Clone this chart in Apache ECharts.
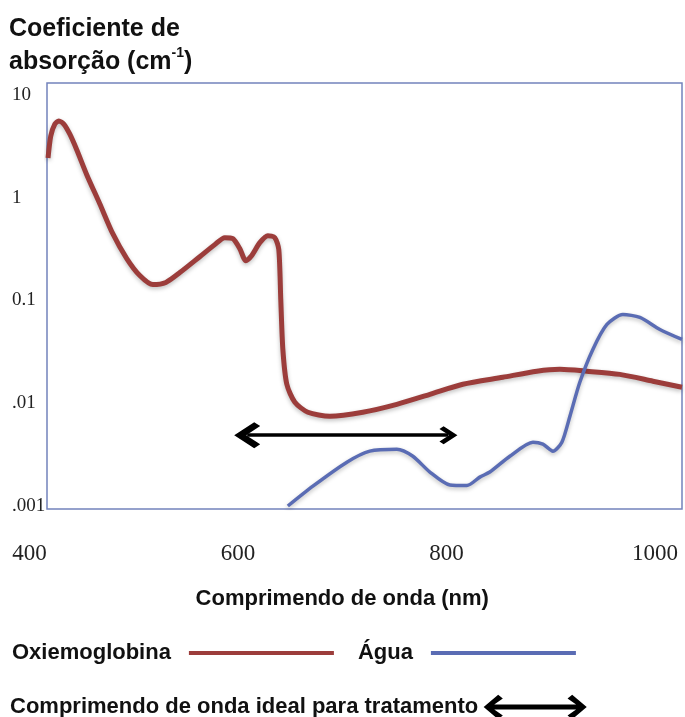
<!DOCTYPE html>
<html>
<head>
<meta charset="utf-8">
<script src="https://cdn.jsdelivr.net/npm/echarts@6/dist/echarts.min.js"></script>
<style>
  html, body { margin: 0; padding: 0; background: #fff; }
  #chart { width: 685px; height: 717px; }
</style>
</head>
<body>
<div id="chart"></div>
<script>
// Oxiemoglobina (nm, cm-1)
const oxyWavelength = [418, 420.6, 424.5, 428.3, 433.1, 438.8, 445.6, 455.2, 467.6, 480.1, 493.5, 506, 518.5, 531, 544.4, 563.5, 577.9, 587.5, 595.2, 601.9, 607.7, 613.4, 621.1, 628.8, 635.5, 639.3, 641.2, 643.2, 647, 654.7, 667.2, 688.3, 719.9, 752.5, 784.2, 815.8, 854.2, 886.8, 908.9, 934.8, 966.4, 998.1, 1026]
const oxyValues = [2.44, 4.0, 5.22, 5.6, 5.22, 4.18, 2.92, 1.67, 0.875, 0.447, 0.256, 0.175, 0.143, 0.150, 0.187, 0.267, 0.350, 0.409, 0.400, 0.320, 0.244, 0.274, 0.366, 0.428, 0.409, 0.313, 0.102, 0.0334, 0.0153, 0.01023, 0.00818, 0.00748, 0.00818, 0.00977, 0.0122, 0.0153, 0.0179, 0.0205, 0.0214, 0.0205, 0.0191, 0.0164, 0.0143]

// Água (nm, cm-1)
const waterWavelength = [648, 672, 704.6, 726.6, 752.5, 767.9, 784.2, 803.4, 819.7, 832.1, 841.7, 860.9, 883, 892.6, 902.2, 910.8, 918.5, 928, 940.5, 954, 969.3, 985.6, 1004.8, 1026]
const waterValues = [0.001, 0.00156, 0.00267, 0.00342, 0.00357, 0.00305, 0.00214, 0.0016, 0.00158, 0.00191, 0.00214, 0.00305, 0.00418, 0.0040, 0.00342, 0.00418, 0.00748, 0.016, 0.0334, 0.0585, 0.0731, 0.0684, 0.0523, 0.0418]

// faixa ideal para tratamento
const idealRange = [609, 802]
const idealLevel = 0.00489

const xTicks = [400, 600, 800, 1000]
const yTickValues = [0.001, 0.01, 0.1, 1, 10]
const yTickLabels = [".001", ".01", "0.1", "1", "10"]

const oxyName = "Oxiemoglobina"
const waterName = "Água"
const idealName = "Comprimendo de onda ideal para tratamento"

const chevron = "path://M10,0 L20,10 L17,13 L10,6 L3,13 L0,10 Z"
const doubleArrow = "path://M0,12 L13,1 L16,3.5 L6,10.5 L94,10.5 L84,3.5 L87,1 L100,12 L87,23 L84,20.5 L94,13.5 L6,13.5 L16,20.5 L13,23 Z"

const pairs = (xs, ys) => xs.map((x, i) => [x, ys[i]])

const chart = echarts.init(document.getElementById("chart"))

const option = {
  animation: false,
  backgroundColor: "#fff",
  title: {
    left: 9,
    top: 13,
    padding: 0,
    text: "Coeficiente de\nabsorção (cm{sup|-1})",
    textStyle: {
      fontFamily: "Liberation Sans",
      fontSize: 25,
      fontWeight: "bold",
      color: "#111",
      lineHeight: 33,
      rich: {
        sup: { fontSize: 14, fontWeight: "bold", color: "#111", verticalAlign: "top", padding: [0, 0, 10, 0] },
      },
    },
  },
  legend: [
    {
      left: 12,
      top: 642,
      padding: 0,
      align: "right",
      icon: "rect",
      itemWidth: 145,
      itemHeight: 4,
      itemGap: 24,
      selectedMode: false,
      data: [oxyName, waterName],
      textStyle: { fontFamily: "Liberation Sans", fontSize: 22, fontWeight: "bold", color: "#111", padding: [0, 13, 0, 0] },
    },
    {
      left: 10,
      top: 695,
      padding: 0,
      align: "right",
      itemWidth: 100,
      itemHeight: 24,
      selectedMode: false,
      data: [{ name: idealName, icon: doubleArrow }],
      textStyle: { fontFamily: "Liberation Sans", fontSize: 22, fontWeight: "bold", color: "#111", padding: [0, 2, 0, 0] },
    },
  ],
  grid: [
    // caixa do gráfico
    { left: 47, right: 3, top: 83, bottom: 208, show: true, borderColor: "#7383BC", borderWidth: 1.5, backgroundColor: "#fff" },
    // eixos com rótulos
    { left: 29.5, right: 30, top: 95, bottom: 211, show: false },
  ],
  xAxis: [
    { gridIndex: 0, type: "value", min: 417, max: 1026, show: false },
    {
      gridIndex: 1,
      type: "value",
      min: xTicks[0],
      max: xTicks[xTicks.length - 1],
      interval: 200,
      axisLine: { show: false },
      axisTick: { show: false },
      splitLine: { show: false },
      axisLabel: { margin: 36, fontFamily: "Liberation Serif", fontSize: 23, color: "#222", formatter: (v) => String(v) },
      name: "Comprimendo de onda (nm)",
      nameLocation: "middle",
      nameGap: 82,
      nameTextStyle: { fontFamily: "Liberation Sans", fontSize: 22, fontWeight: "bold", color: "#111" },
    },
  ],
  yAxis: [
    { gridIndex: 0, type: "log", logBase: 10, min: 0.000935, max: 13.1, show: false },
    {
      gridIndex: 1,
      type: "log",
      logBase: 10,
      min: yTickValues[0],
      max: yTickValues[yTickValues.length - 1],
      axisLine: { show: false },
      axisTick: { show: false },
      splitLine: { show: false },
      axisLabel: {
        align: "left",
        margin: 17.5,
        fontFamily: "Liberation Serif",
        fontSize: 19,
        color: "#222",
        formatter: (v) => {
          const i = yTickValues.findIndex((t) => Math.abs(Math.log10(t) - Math.log10(v)) < 0.01)
          return i >= 0 ? yTickLabels[i] : ""
        },
      },
    },
  ],
  series: [
    {
      name: oxyName,
      type: "line",
      xAxisIndex: 0,
      yAxisIndex: 0,
      data: pairs(oxyWavelength, oxyValues),
      color: "#9C3D3B",
      smooth: 0.25,
      showSymbol: false,
      lineStyle: { width: 5, color: "#9C3D3B", shadowColor: "rgba(0,0,0,0.25)", shadowBlur: 4, shadowOffsetY: 2 },
      z: 3,
    },
    {
      name: waterName,
      type: "line",
      xAxisIndex: 0,
      yAxisIndex: 0,
      data: pairs(waterWavelength, waterValues),
      color: "#5A6CB4",
      smooth: 0.25,
      showSymbol: false,
      lineStyle: { width: 3.5, color: "#5A6CB4", shadowColor: "rgba(0,0,0,0.25)", shadowBlur: 4, shadowOffsetY: 2 },
      z: 4,
    },
    {
      name: idealName,
      type: "lines",
      coordinateSystem: "cartesian2d",
      xAxisIndex: 0,
      yAxisIndex: 0,
      color: "#000",
      symbol: [chevron, chevron],
      symbolSize: [26, 18],
      lineStyle: { color: "#000", width: 3.5, opacity: 1 },
      data: [{ coords: [[idealRange[0], idealLevel], [idealRange[1], idealLevel]] }],
      z: 5,
    },
  ],
}

chart.setOption(option)
</script>
</body>
</html>
